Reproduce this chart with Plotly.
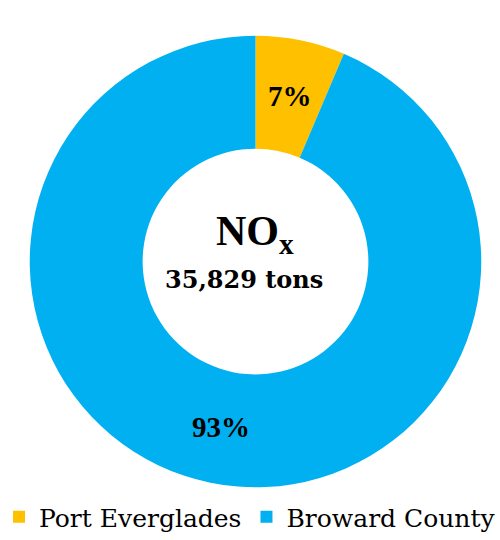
import math
import plotly.graph_objects as go

labels = ["Port Everglades", "Broward County"]
shares = [6.4, 93.6]
text_labels = ["7%", "93%"]
colors = ["#FFC000", "#00B0F0"]
center_title = "NO<sub>x</sub>"
center_total = "35,829 tons"

FONT = "Liberation Serif"
W, H = 500, 540
# pie geometry in pixels (layout only)
CX, CY, R_OUT, HOLE = 255.5, 263.0, 227.0, 0.5

fig = go.Figure(go.Pie(
    labels=labels,
    values=shares,
    textinfo="none",
    marker=dict(colors=colors, line=dict(width=0)),
    hole=HOLE,
    sort=False,
    direction="clockwise",
    rotation=0,
    domain=dict(x=[(CX - R_OUT) / W, (CX + R_OUT) / W],
                y=[1 - (CY + R_OUT) / H, 1 - (CY - R_OUT) / H]),
    hoverinfo="label+percent",
))

# slice labels placed at the middle of each ring segment, derived from shares
total = sum(shares)
r_mid = R_OUT * (1 + HOLE) / 2
cum = 0.0
for s, t in zip(shares, text_labels):
    mid = (cum + s / 2) / total * 2 * math.pi
    cum += s
    px = CX + r_mid * math.sin(mid)
    py = CY - r_mid * math.cos(mid)
    fig.add_annotation(
        text=t, x=px / W, y=1 - py / H, xref="paper", yref="paper",
        xanchor="center", yanchor="middle",
        showarrow=False, font=dict(family=FONT, size=29, color="black", weight="bold"),
    )

fig.add_annotation(
    text=center_title, x=255 / W, y=1 - 235 / H, xref="paper", yref="paper",
    xanchor="center", yanchor="middle",
    showarrow=False, font=dict(family=FONT, size=42, color="black", weight="bold"),
)
fig.add_annotation(
    text=center_total, x=244 / W, y=1 - 281 / H, xref="paper", yref="paper",
    xanchor="center", yanchor="middle",
    showarrow=False, font=dict(family="DejaVu Serif", size=24, color="black", weight="bold"),
)

fig.update_layout(
    width=W, height=H,
    margin=dict(l=0, r=0, t=0, b=0),
    paper_bgcolor="white",
    plot_bgcolor="white",
    showlegend=True,
    legend=dict(
        orientation="h", x=0.5, xanchor="center", y=1 - 520 / H, yanchor="middle",
        font=dict(family="DejaVu Serif", size=25, color="black"),
        itemwidth=30,
    ),
)

fig.write_html("out.html")
